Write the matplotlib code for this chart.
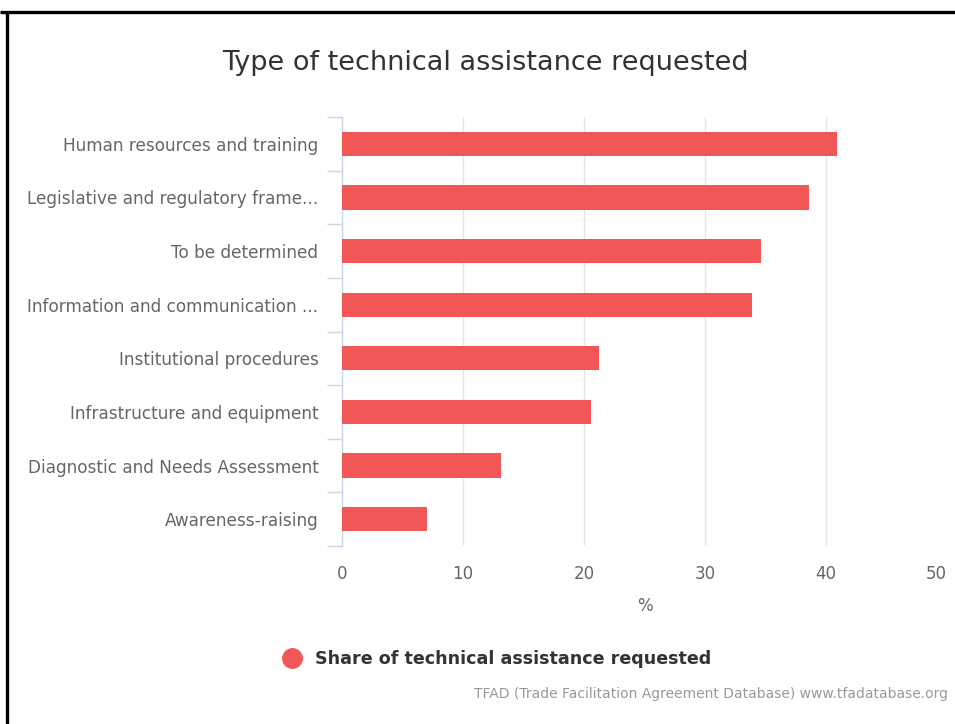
import numpy as np
import matplotlib.pyplot as plt
from matplotlib.lines import Line2D

categories = [
    "Human resources and training",
    "Legislative and regulatory frame...",
    "To be determined",
    "Information and communication ...",
    "Institutional procedures",
    "Infrastructure and equipment",
    "Diagnostic and Needs Assessment",
    "Awareness-raising",
]
shares = [40.9, 38.6, 34.6, 33.9, 21.2, 20.6, 13.1, 7.0]
x_ticks = [0, 10, 20, 30, 40, 50]

bar_color = "#f25757"
text_color = "#666666"

plt.rcParams['font.family'] = ['DejaVu Sans']

fig = plt.figure(figsize=(9.55, 7.24), dpi=100)
ax = fig.add_axes([342 / 955, 1 - 546 / 724, 605 / 955, 429 / 724])

y = np.arange(len(categories))
ax.barh(y, shares, height=0.45, color=bar_color, zorder=3)

ax.set_xlim(0, 50)
ax.set_ylim(len(categories) - 0.5, -0.5)

ax.set_xticks(x_ticks)
ax.set_xticklabels([str(t) for t in x_ticks])
ax.tick_params(axis='x', length=0, pad=14, labelsize=12, labelcolor=text_color)
ax.grid(axis='x', color="#e6e6e6", linewidth=1, zorder=0)
# last label pulled inside the chart, like the original
last = ax.get_xticklabels()[-1]
last.set_horizontalalignment('right')
last.set_x(last.get_position()[0])

ax.set_yticks(y)
ax.set_yticklabels(categories)
ax.tick_params(axis='y', which='major', length=0, pad=17, labelsize=12.2, labelcolor=text_color)
ax.set_yticks(np.arange(-0.5, len(categories) + 0.5, 1), minor=True)
ax.tick_params(axis='y', which='minor', length=11, width=1, color="#ccd6eb")

for s in ['top', 'right', 'bottom']:
    ax.spines[s].set_visible(False)
ax.spines['left'].set_color("#ccd6eb")
ax.spines['left'].set_linewidth(1)

ax.set_xlabel("%", fontsize=12, color=text_color, labelpad=10)

fig.text(485 / 955, 1 - 63 / 724, "Type of technical assistance requested",
         ha='center', va='center', fontsize=19.5, color="#333333")

handle = Line2D([], [], marker='o', linestyle='none', markersize=14,
                markerfacecolor=bar_color, markeredgecolor=bar_color)
fig.legend([handle], ["Share of technical assistance requested"],
           loc='center', bbox_to_anchor=(496 / 955, 1 - 659 / 724),
           frameon=False, handletextpad=0.7, handlelength=1.2,
           prop={'weight': 'bold', 'size': 12.6})
for t in fig.legends[0].get_texts():
    t.set_color("#333333")

fig.text(948 / 955, 1 - 694 / 724,
         "TFAD (Trade Facilitation Agreement Database) www.tfadatabase.org",
         ha='right', va='center', fontsize=10, color="#999999")

# black frame on top and left edges
fig.add_artist(Line2D([0, 1], [1 - 11.5 / 724, 1 - 11.5 / 724], color='black',
                      linewidth=2.4, solid_capstyle='butt'))
fig.add_artist(Line2D([6.5 / 955, 6.5 / 955], [0, 1 - 11.5 / 724], color='black',
                      linewidth=2.4, solid_capstyle='butt'))

fig.savefig("out.png", dpi=100)
